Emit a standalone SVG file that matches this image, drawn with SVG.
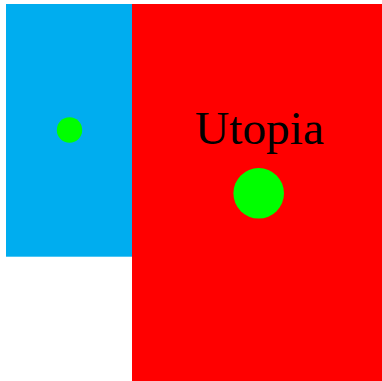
<svg xmlns="http://www.w3.org/2000/svg" width="382" height="381" viewBox="0 0 382 381">
<style>
.dot{fill:#00ff00}
.lbl{font-family:"Liberation Serif","DejaVu Serif",serif;font-size:47px;fill:#000}
</style>
<rect width="382" height="381" fill="#fff"/>
<g id="blue">
<rect x="6" y="4" width="126" height="252.7" fill="#00adef"/>
<circle class="dot" cx="69.5" cy="130" r="12.7"/>
</g>
<g id="red">
<rect x="132" y="4" width="250" height="377" fill="#ff0000"/>
<text class="lbl" x="195" y="144.3" textLength="129" lengthAdjust="spacingAndGlyphs">Utopia</text>
<circle class="dot" cx="258.7" cy="193.3" r="25.3"/>
</g>
<g id="connectors"/>
</svg>
